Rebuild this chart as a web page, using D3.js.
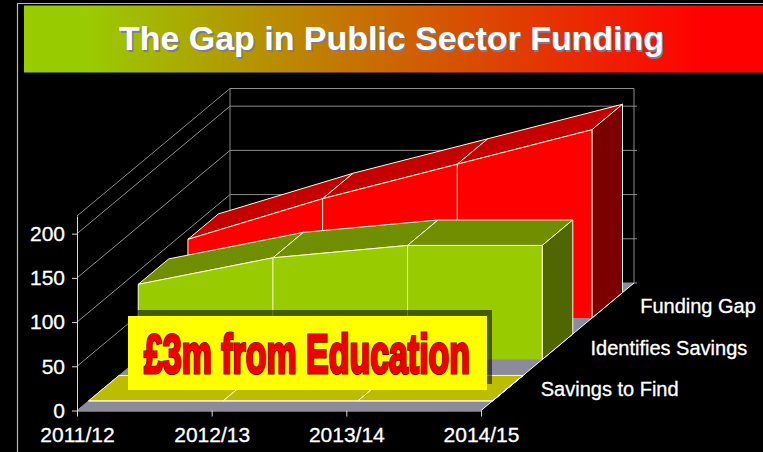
<!DOCTYPE html>
<html>
<head>
<meta charset="utf-8">
<script src="https://cdn.jsdelivr.net/npm/d3@7"></script>
<style>
html, body { margin: 0; padding: 0; background: #000; overflow: hidden; }
svg { display: block; }
text { font-family: "Liberation Sans", Arial, sans-serif; }
</style>
</head>
<body>
<div id="graph"></div>
<script>
// Values
const years = ["2011/12", "2012/13", "2013/14", "2014/15"];
const seriesNames = ["Savings to Find", "Identifies Savings", "Funding Gap"];
const savingsToFind = [0, 0, 0, 0];
const identifiedSavings = [85, 115, 129, 129];
const fundingGap = [89, 135, 174, 213];
const valueTicks = [0, 50, 100, 150, 200];

const title = "The Gap in Public Sector Funding";
const note = "£3m from Education";

// Chart constants
const w = 763;
const h = 452;
const depthX = 153;
const depthY = -127.5;

const svg = d3.select("#graph").append("svg")
    .attr("width", w)
    .attr("height", h);

// Scales for the front plane, plus a depth scale going back to the wall
const x = d3.scalePoint().domain(years).range([77, 481]);
const y = d3.scaleLinear().domain([0, 220]).range([410.5, 216]);
const z = d3.scaleBand().domain(seriesNames).range([0, 1]).paddingInner(0.385).paddingOuter(0.231);

// Project year / value / depth (0 = front, 1 = back wall) to the page
const px = (year, depth) => x(year) + depth * depthX;
const py = (value, depth) => y(value) + depth * depthY;
const poly = pts => pts.map(p => p.join(",")).join(" ");

// Frame and title banner
svg.append("path")
    .attr("d", "M17.5,452V3.5H763")
    .attr("fill", "none")
    .attr("stroke", "#b8b8b8")
    .attr("stroke-width", 1.2);

const grad = svg.append("defs").append("linearGradient").attr("id", "banner");
grad.append("stop").attr("offset", "0%").attr("stop-color", "#99cc00");
grad.append("stop").attr("offset", "8%").attr("stop-color", "#99cc00");
grad.append("stop").attr("offset", "92%").attr("stop-color", "#ff0000");
grad.append("stop").attr("offset", "100%").attr("stop-color", "#ff0000");

svg.append("rect")
    .attr("x", 24).attr("y", 5.5)
    .attr("width", 739).attr("height", 67)
    .attr("fill", "url(#banner)");

[["#7d7d99", 1.5], ["#ffffff", 0]].forEach(([color, off]) => {
    svg.append("text")
        .attr("x", 119 + off).attr("y", 50 + off)
        .attr("textLength", 545)
        .attr("lengthAdjust", "spacingAndGlyphs")
        .attr("font-size", 34)
        .attr("font-weight", "bold")
        .attr("fill", color)
        .text(title);
});

// Floor
const first = years[0];
const last = years[years.length - 1];
svg.append("polygon")
    .attr("points", poly([[px(first, 0), py(0, 0)], [px(last, 0), py(0, 0)], [px(last, 1), py(0, 1)], [px(first, 1), py(0, 1)]]))
    .attr("fill", "#8b8b9b");

// Back wall and left wall grid
const grid = svg.append("g").attr("fill", "none").attr("stroke", "#8c8c8c").attr("stroke-width", 1);
valueTicks.concat([220]).forEach(v => {
    grid.append("path")
        .attr("d", `M${px(first, 0)},${py(v, 0)}L${px(first, 1)},${py(v, 1)}H${px(last, 1) + (v === 220 ? 0 : 3)}`);
});
[first, last].forEach(yr => {
    grid.append("line")
        .attr("x1", px(yr, 1)).attr("x2", px(yr, 1))
        .attr("y1", py(0, 1)).attr("y2", py(220, 1));
});
grid.append("line")
    .attr("x1", px(last, 0)).attr("y1", py(0, 0))
    .attr("x2", px(last, 1)).attr("y2", py(0, 1))
    .attr("stroke", "#ffffff");

// Ribbons, back to front
const ribbons = [
    { name: "Funding Gap", values: fundingGap, front: "#ff0000", top: "#c40000", side: "#7c0000" },
    { name: "Identifies Savings", values: identifiedSavings, front: "#99cc00", top: "#6f8f00", side: "#506600" },
    { name: "Savings to Find", values: savingsToFind, front: "#bcbc00", top: "#bcbc00", side: "#bcbc00" }
];

ribbons.forEach(s => {
    const d0 = z(s.name);
    const d1 = d0 + z.bandwidth();
    const g = svg.append("g").attr("stroke", "#fff8e0").attr("stroke-width", 1).attr("stroke-linejoin", "round");

    // top faces
    g.selectAll("polygon.top")
        .data(d3.pairs(years.map((yr, i) => [yr, s.values[i]])))
        .join("polygon")
        .attr("class", "top")
        .attr("fill", s.top)
        .attr("points", ([a, b]) => poly([
            [px(a[0], d0), py(a[1], d0)], [px(b[0], d0), py(b[1], d0)],
            [px(b[0], d1), py(b[1], d1)], [px(a[0], d1), py(a[1], d1)]
        ]));

    // right end
    g.append("polygon")
        .attr("fill", s.side)
        .attr("points", poly([
            [px(last, d0), py(s.values[3], d0)], [px(last, d1), py(s.values[3], d1)],
            [px(last, d1), py(0, d1)], [px(last, d0), py(0, d0)]
        ]));

    // front face
    const frontPts = years.map((yr, i) => [px(yr, d0), py(s.values[i], d0)]);
    g.append("polygon")
        .attr("fill", s.front)
        .attr("stroke", "none")
        .attr("points", poly(frontPts.concat([[px(last, d0), py(0, d0)], [px(first, d0), py(0, d0)]])));

    // outline of the front face
    g.append("path")
        .attr("fill", "none")
        .attr("d", d3.line()(frontPts));
    years.forEach((yr, i) => {
        g.append("line")
            .attr("x1", px(yr, d0)).attr("x2", px(yr, d0))
            .attr("y1", py(s.values[i], d0)).attr("y2", py(0, d0));
    });
});

// Axes
const xAxis = svg.append("g")
    .attr("transform", `translate(0,${y(0)})`)
    .call(d3.axisBottom(x).tickSize(6).tickSizeOuter(0).tickPadding(11));
const yAxis = svg.append("g")
    .attr("transform", `translate(${x(first)},0)`)
    .call(d3.axisLeft(y).tickValues(valueTicks).tickSize(5).tickSizeOuter(0).tickPadding(7));

[xAxis, yAxis].forEach(a => {
    a.selectAll("text")
        .attr("fill", "#ffffff")
        .attr("stroke", "#ffffff")
        .attr("stroke-width", 0.3)
        .attr("font-size", 21)
        .style("font-family", '"Liberation Sans", Arial, sans-serif');
    a.selectAll("line").attr("stroke", "#d8d8d8");
    a.select(".domain").attr("stroke", "#d8d8d8");
});

// Series labels along the depth axis
svg.append("g").selectAll("text")
    .data(seriesNames)
    .join("text")
    .attr("x", d => px(last, z(d) + z.bandwidth() / 2) + 33)
    .attr("y", d => py(0, z(d) + z.bandwidth() / 2) + 8)
    .attr("font-size", 20)
    .attr("fill", "#ffffff")
    .attr("stroke", "#ffffff")
    .attr("stroke-width", 0.3)
    .text(d => d);

// Annotation box
svg.append("rect")
    .attr("x", 133).attr("y", 310)
    .attr("width", 359).attr("height", 74)
    .attr("fill", "#000000").attr("opacity", 0.55);
svg.append("rect")
    .attr("x", 128).attr("y", 316)
    .attr("width", 359).attr("height", 74)
    .attr("fill", "#ffff00");

// dark outline first, then a red pass that fattens the letters
[["#6a1010", 3.2], ["#f00000", 1.4]].forEach(([color, sw]) => {
    svg.append("text")
        .attr("x", 144).attr("y", 373)
        .attr("textLength", 326)
        .attr("lengthAdjust", "spacingAndGlyphs")
        .attr("font-size", 56)
        .attr("font-weight", "bold")
        .attr("fill", "#f00000")
        .attr("stroke", color)
        .attr("stroke-width", sw)
        .text(note);
});
</script>
</body>
</html>
